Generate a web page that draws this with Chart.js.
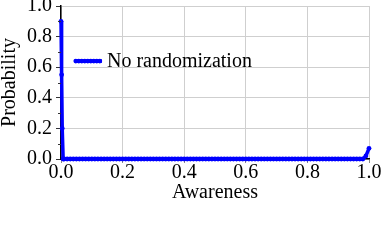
<!DOCTYPE html>
<html>
<head>
<meta charset="utf-8">
<script src="https://cdn.jsdelivr.net/npm/chart.js@4"></script>
<style>
  html, body { margin: 0; padding: 0; background: #fff; }
  #wrap { width: 383px; height: 243px; }
</style>
</head>
<body>
<div id="wrap"><canvas id="chart" width="383" height="243"></canvas></div>
<script>
// data
const seriesName = 'No randomization';
const awareness = [
  0, 0.002, 0.004, 0.007,
  0.01, 0.02, 0.03, 0.04, 0.05, 0.06, 0.07, 0.08, 0.09, 0.10,
  0.11, 0.12, 0.13, 0.14, 0.15, 0.16, 0.17, 0.18, 0.19, 0.20,
  0.21, 0.22, 0.23, 0.24, 0.25, 0.26, 0.27, 0.28, 0.29, 0.30,
  0.31, 0.32, 0.33, 0.34, 0.35, 0.36, 0.37, 0.38, 0.39, 0.40,
  0.41, 0.42, 0.43, 0.44, 0.45, 0.46, 0.47, 0.48, 0.49, 0.50,
  0.51, 0.52, 0.53, 0.54, 0.55, 0.56, 0.57, 0.58, 0.59, 0.60,
  0.61, 0.62, 0.63, 0.64, 0.65, 0.66, 0.67, 0.68, 0.69, 0.70,
  0.71, 0.72, 0.73, 0.74, 0.75, 0.76, 0.77, 0.78, 0.79, 0.80,
  0.81, 0.82, 0.83, 0.84, 0.85, 0.86, 0.87, 0.88, 0.89, 0.90,
  0.91, 0.92, 0.93, 0.94, 0.95, 0.96, 0.97, 0.98, 0.99, 1.0
];
const probability = [
  0.9, 0.55, 0.2, 0,
  0, 0, 0, 0, 0, 0, 0, 0, 0, 0,
  0, 0, 0, 0, 0, 0, 0, 0, 0, 0,
  0, 0, 0, 0, 0, 0, 0, 0, 0, 0,
  0, 0, 0, 0, 0, 0, 0, 0, 0, 0,
  0, 0, 0, 0, 0, 0, 0, 0, 0, 0,
  0, 0, 0, 0, 0, 0, 0, 0, 0, 0,
  0, 0, 0, 0, 0, 0, 0, 0, 0, 0,
  0, 0, 0, 0, 0, 0, 0, 0, 0, 0,
  0, 0, 0, 0, 0, 0, 0, 0, 0, 0,
  0, 0, 0, 0, 0, 0, 0, 0, 0.02, 0.07
];
const minorTicks = [0.1, 0.3, 0.5, 0.7, 0.9];

const FONT = "'Liberation Serif', serif";
const FSIZE = 20;
const BLUE = '#0000ff';

// small ticks between the labelled ones on the y axis
const minorTickPlugin = {
  id: 'minorTicks',
  afterDraw(chart) {
    const c = chart.ctx;
    const y = chart.scales.y;
    const left = chart.chartArea.left;
    c.save();
    c.strokeStyle = '#333';
    c.lineWidth = 1;
    minorTicks.forEach(v => {
      const py = Math.round(y.getPixelForValue(v)) + 0.5;
      c.beginPath();
      c.moveTo(left - 3, py);
      c.lineTo(left, py);
      c.stroke();
    });
    c.restore();
  }
};

// legend sitting inside the plot area
const innerLegend = {
  id: 'innerLegend',
  afterDraw(chart) {
    const c = chart.ctx;
    const xs = chart.scales.x, ys = chart.scales.y;
    const x0 = xs.getPixelForValue(0.048);
    const x1 = xs.getPixelForValue(0.133);
    const yy = ys.getPixelForValue(0.64);
    c.save();
    c.strokeStyle = BLUE;
    c.lineWidth = 3.5;
    c.beginPath();
    c.moveTo(x0, yy);
    c.lineTo(x1, yy);
    c.stroke();
    c.fillStyle = BLUE;
    for (let px = x0; px <= x1; px += 3) {
      c.beginPath();
      c.arc(px, yy, 2.4, 0, Math.PI * 2);
      c.fill();
    }
    c.fillStyle = '#000';
    c.font = FSIZE + 'px ' + FONT;
    c.textBaseline = 'middle';
    c.fillText(seriesName, x1 + 5, yy + 1);
    c.restore();
  }
};

new Chart(document.getElementById('chart'), {
  type: 'line',
  data: {
    datasets: [{
      label: seriesName,
      data: awareness.map((a, i) => ({ x: a, y: probability[i] })),
      borderColor: BLUE,
      backgroundColor: BLUE,
      borderWidth: 3.5,
      pointRadius: 2.4,
      pointBorderWidth: 0,
      pointBackgroundColor: BLUE,
      tension: 0,
      clip: false
    }]
  },
  options: {
    responsive: false,
    animation: false,
    devicePixelRatio: 1,
    layout: { padding: { top: 6, right: 14, left: 0, bottom: 0 } },
    plugins: {
      legend: { display: false },
      tooltip: { enabled: false }
    },
    scales: {
      x: {
        type: 'linear',
        min: 0, max: 1,
        afterFit(s) { s.height = 84; s.paddingLeft = 0; s.paddingRight = 0; },
        border: { display: true, color: '#000', width: 1.5 },
        grid: { color: '#cfcfcf', tickColor: '#888', tickLength: 4, lineWidth: 1 },
        ticks: {
          stepSize: 0.2, color: '#000', padding: 0, maxRotation: 0,
          font: { family: FONT, size: FSIZE, lineHeight: 1 },
          callback: v => v.toFixed(1)
        },
        title: {
          display: true, text: 'Awareness', color: '#000',
          font: { family: FONT, size: FSIZE, lineHeight: 1 },
          padding: { top: 0, bottom: 40 }
        }
      },
      y: {
        min: 0, max: 1,
        afterFit(s) { s.width = 61; s.paddingTop = 0; s.paddingBottom = 0; },
        border: { display: true, color: '#000', width: 1.5 },
        grid: { color: '#cfcfcf', tickColor: '#333', tickLength: 5, lineWidth: 1 },
        ticks: {
          stepSize: 0.2, color: '#000', padding: 4,
          font: { family: FONT, size: FSIZE, lineHeight: 1 },
          callback: v => v.toFixed(1)
        },
        title: {
          display: true, text: 'Probability', color: '#000',
          font: { family: FONT, size: FSIZE, lineHeight: 1 },
          padding: { top: 0, bottom: 0 }
        }
      }
    }
  },
  plugins: [minorTickPlugin, innerLegend]
});
</script>
</body>
</html>
